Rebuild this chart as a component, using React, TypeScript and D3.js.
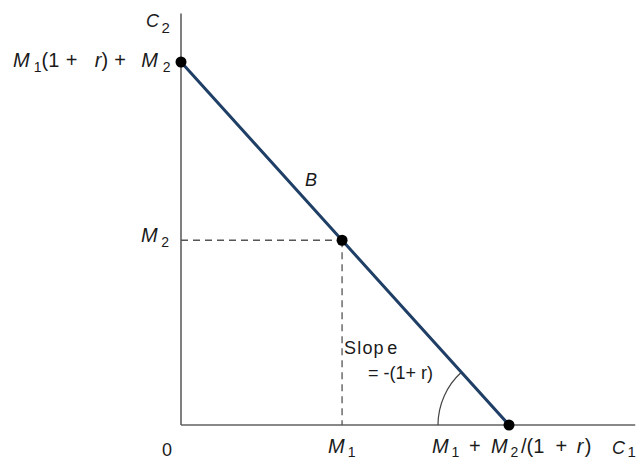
import React from "react";
import * as d3 from "d3";

// Two-period budget line: income M1 today, M2 tomorrow, interest rate r
const M1 = [100];
const M2 = [114];
const rate = [0.1];
const points = [
  { c1: 0, c2: M1[0] * (1 + rate[0]) + M2[0] },
  { c1: M1[0], c2: M2[0] },
  { c1: M1[0] + M2[0] / (1 + rate[0]), c2: 0 },
];
const xAxisMax = [282];
const yAxisMax = [254];

const W = 638, H = 459;
const x = d3.scaleLinear().domain([0, points[2].c1]).range([181, 509]);
const y = d3.scaleLinear().domain([0, points[0].c2]).range([425, 62]);

type Seg = { t: string; it?: boolean; sub?: boolean; dx?: number };

const FONT = "'Liberation Sans', Arial, sans-serif";

function Label({ segs, X, Y, fs = 20, sub = 14, subDy = 5 }: { segs: Seg[]; X: number; Y: number; fs?: number; sub?: number; subDy?: number }) {
  let cur = 0;
  return (
    <text x={X} y={Y} fontFamily={FONT} fontSize={fs} fill="#1a1a1a" style={{ whiteSpace: "pre" }}>
      {segs.map((s, i) => {
        const target = s.sub ? subDy : 0;
        const dy = target - cur;
        cur = target;
        return (
          <tspan key={i} dx={s.dx ?? 0} dy={dy} fontStyle={s.it ? "italic" : "normal"} fontSize={s.sub ? sub : fs}>
            {s.t}
          </tspan>
        );
      })}
    </text>
  );
}

export default function App() {
  const line = d3.line<{ c1: number; c2: number }>().x(d => x(d.c1)).y(d => y(d.c2));
  const end = points[2];
  const mid = points[1];
  const ang = Math.atan2(y(mid.c2) - y(end.c2), x(mid.c1) - x(end.c1));
  const R = 71;
  const arc = d3.path();
  arc.arc(x(end.c1), y(end.c2), R, Math.PI, ang + 2 * Math.PI, false);
  const x0 = x(0);
  return (
    <svg width={W} height={H} style={{ position: "absolute", left: 0, top: 0 }}>
      <rect width={W} height={H} fill="#fff" />
      {/* axes */}
      <line x1={x0} x2={x0} y1={y(0)} y2={y(yAxisMax[0])} stroke="#606060" strokeWidth={1.6} />
      <line x1={x0} x2={x(xAxisMax[0])} y1={y(0)} y2={y(0)} stroke="#606060" strokeWidth={1.6} />
      {/* dashed guides */}
      <line x1={x0} x2={x(mid.c1)} y1={y(mid.c2)} y2={y(mid.c2)} stroke="#555" strokeWidth={1.3} strokeDasharray="7,5" />
      <line x1={x(mid.c1)} x2={x(mid.c1)} y1={y(mid.c2)} y2={y(0)} stroke="#555" strokeWidth={1.3} strokeDasharray="7,5" />
      {/* angle arc */}
      <path d={arc.toString()} fill="none" stroke="#444" strokeWidth={1.2} />
      {/* budget line */}
      <path d={line(points) ?? ""} fill="none" stroke="#1f3f66" strokeWidth={3} />
      {points.map((p, i) => (
        <circle key={i} cx={x(p.c1)} cy={y(p.c2)} r={5.5} fill="#000" />
      ))}
      {/* labels */}
      <Label X={x0 - 35} Y={27} fs={18} sub={15} subDy={6} segs={[{ t: "C", it: true }, { t: "2", sub: true, dx: 2.5 }]} />
      <Label X={x0 - 168} Y={y(points[0].c2) + 4.5} subDy={5.5} segs={[
        { t: "M", it: true }, { t: "1", sub: true, dx: 4 }, { t: "(1" }, { t: "+", dx: 6.5 }, { t: "r", it: true, dx: 17.3 }, { t: ")" }, { t: "+", dx: 6.2 }, { t: "M", it: true, dx: 15.3 }, { t: "2", sub: true, dx: 4.8 },
      ]} />
      <Label X={x0 - 40} Y={y(mid.c2) + 1.5} segs={[{ t: "M", it: true }, { t: "2", sub: true, dx: 3.5 }]} />
      <Label X={x0 - 19} Y={456} fs={18} segs={[{ t: "0" }]} />
      <Label X={x(mid.c1) - 14} Y={453} subDy={4} segs={[{ t: "M", it: true }, { t: "1", sub: true, dx: 3 }]} />
      <Label X={x(end.c1) - 77} Y={453} subDy={4} segs={[
        { t: "M", it: true }, { t: "1", sub: true, dx: 2.8 }, { t: "+", dx: 9.7 }, { t: "M", it: true, dx: 10.3 }, { t: "2", sub: true, dx: 2.8 }, { t: "/(1", dx: 2.7 }, { t: "+", dx: 11.2 }, { t: "r", it: true, dx: 9.5 }, { t: ")", dx: 1.5 },
      ]} />
      <Label X={612} Y={454} fs={18} sub={15} subDy={3} segs={[{ t: "C", it: true }, { t: "1", sub: true, dx: 2.5 }]} />
      <Label X={305} Y={186} fs={18} segs={[{ t: "B", it: true }]} />
      <text x={344} y={354} fontFamily={FONT} fontSize={18} fill="#1a1a1a" letterSpacing={1.2} style={{ whiteSpace: "pre" }}>
        Slop<tspan dx={2.5}>e</tspan>
      </text>
      <text x={368} y={379} fontFamily={FONT} fontSize={18} fill="#1a1a1a" style={{ whiteSpace: "pre" }}>= -(1+ r)</text>
    </svg>
  );
}
